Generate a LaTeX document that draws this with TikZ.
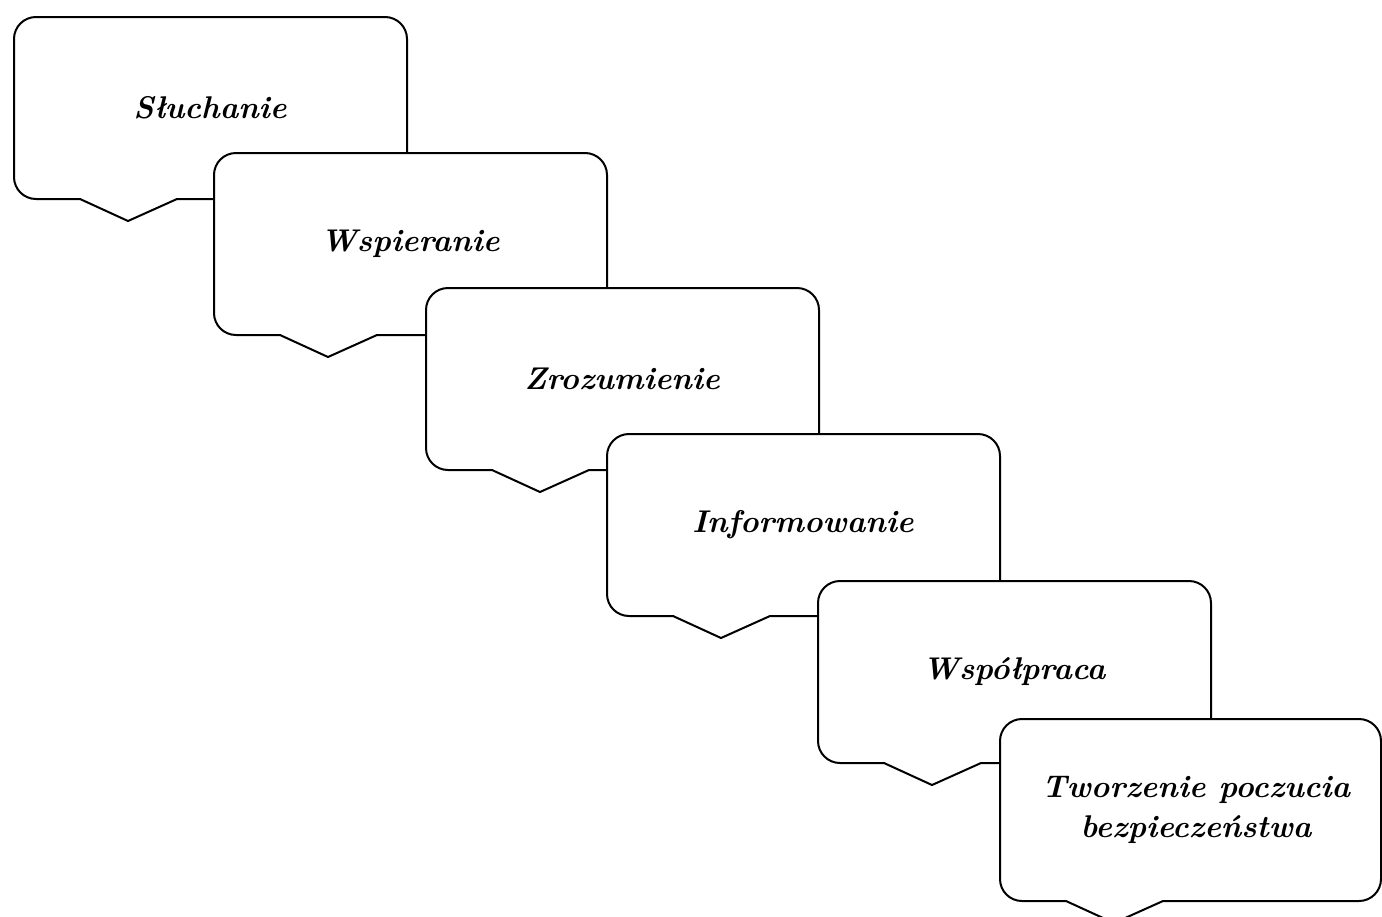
\documentclass[tikz,border=0pt]{standalone}
\begin{document}
\begin{tikzpicture}[x=0.5pt,y=-0.5pt,
  bubble/.style={fill=white, line width=1pt},
  word/.style={font=\fontsize{15.7}{20}\selectfont\bfseries\itshape, align=center}]

\newcommand\BW{393}
\newcommand\BH{182}

\useasboundingbox (0,0) rectangle (1382,916); %% page size

%% Sluchanie
\draw[bubble](14+114,17+\BH+22) -- (14+163,17+\BH) [rounded corners=11pt]
-- (14+\BW,17+\BH) -- (14+\BW,17) -- (14,17) -- (14,17+\BH) [sharp corners]
-- (14+66,17+\BH) -- cycle;
\node[word] (sluch) at (14+196,17+91) {Słuchanie};

%% Wspieranie
\draw[bubble](214+114,153+\BH+22) -- (214+163,153+\BH) [rounded corners=11pt]
-- (214+\BW,153+\BH) -- (214+\BW,153) -- (214,153) -- (214,153+\BH) [sharp corners]
-- (214+66,153+\BH) -- cycle;
\node[word] (wsp) at (214+196,153+91) {Wspieranie};

%% Zrozumienie
\draw[bubble](426+114,288+\BH+22) -- (426+163,288+\BH) [rounded corners=11pt]
-- (426+\BW,288+\BH) -- (426+\BW,288) -- (426,288) -- (426,288+\BH) [sharp corners]
-- (426+66,288+\BH) -- cycle;
\node[word] (zroz) at (426+196,288+91) {Zrozumienie};

%% Informowanie
\draw[bubble](607+114,434+\BH+22) -- (607+163,434+\BH) [rounded corners=11pt]
-- (607+\BW,434+\BH) -- (607+\BW,434) -- (607,434) -- (607,434+\BH) [sharp corners]
-- (607+66,434+\BH) -- cycle;
\node[word] (info) at (607+196,434+91) {Informowanie};

%% Wspolpraca
\draw[bubble](818+114,581+\BH+22) -- (818+163,581+\BH) [rounded corners=11pt]
-- (818+\BW,581+\BH) -- (818+\BW,581) -- (818,581) -- (818,581+\BH) [sharp corners]
-- (818+66,581+\BH) -- cycle;
\node[word] (wspol) at (818+196,581+91) {Współpraca};

%% Tworzenie poczucia bezpieczenstwa (cut by the page edge)
\draw[bubble](1000+114,719+\BH+22) -- (1000+163,719+\BH) [rounded corners=11pt]
-- (1381,719+\BH) -- (1381,719) -- (1000,719) -- (1000,719+\BH) [sharp corners]
-- (1000+66,719+\BH) -- cycle;
\node[word] (bezp) at (1196,810) {Tworzenie poczucia\\bezpieczeństwa};

\end{tikzpicture}
\end{document}
